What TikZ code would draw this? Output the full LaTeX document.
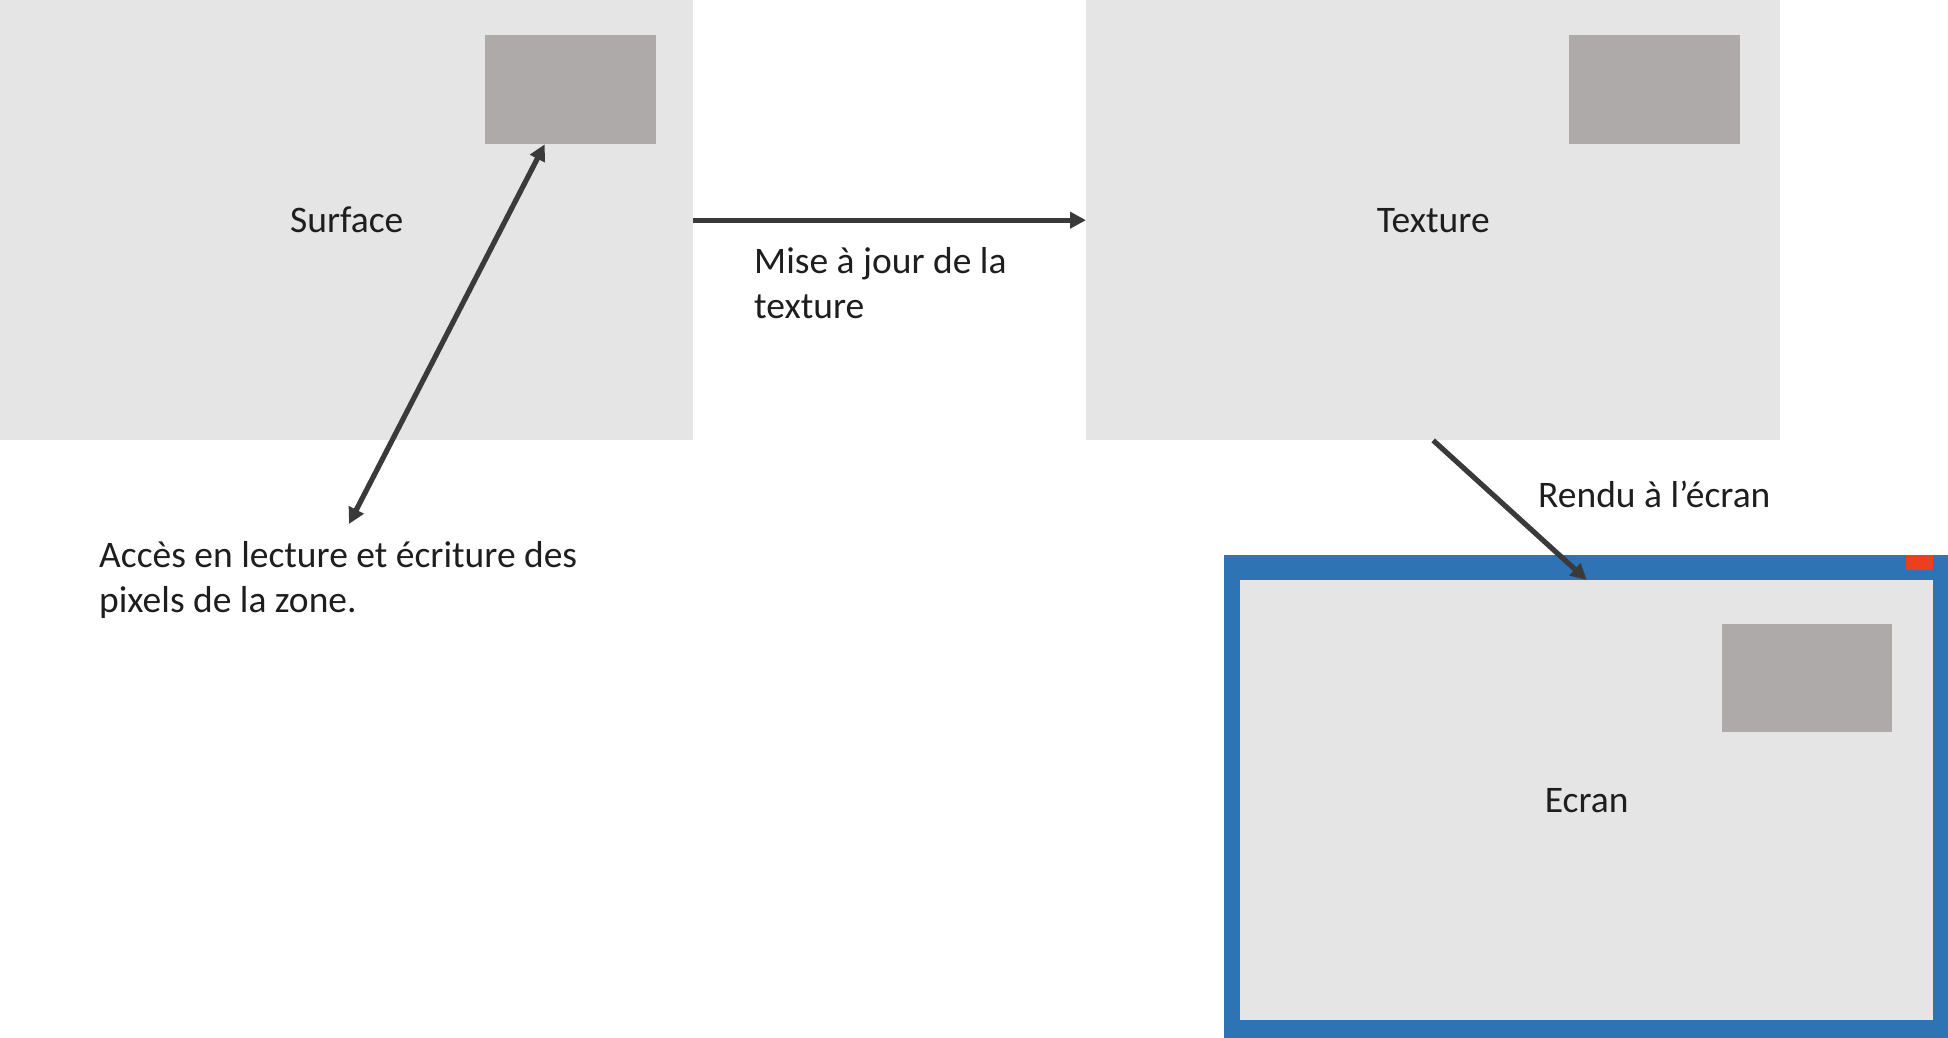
\documentclass[tikz,border=0pt]{standalone}
\usepackage{fontspec}
\setmainfont{Carlito}
\usetikzlibrary{arrows.meta,calc}
\definecolor{boxgrey}{HTML}{E5E5E5}
\definecolor{smallgrey}{HTML}{AEAAA9}
\definecolor{scrblue}{HTML}{2E74B5}
\definecolor{scrred}{HTML}{EB3F1E}
\definecolor{arrowcol}{HTML}{3A3A3A}
\definecolor{txtcol}{HTML}{1E1E1E}
\tikzset{
  bigbox/.style={fill=boxgrey, draw=none, inner sep=0pt, anchor=north west, text=txtcol, font=\fontsize{37.5}{45}\selectfont},
  smallbox/.style={fill=smallgrey, draw=none, inner sep=0pt, anchor=north west},
  conn/.style={draw=arrowcol, line width=5.2pt, -{Triangle[length=16pt,width=16pt]}},
  lbl/.style={font=\fontsize{37.5}{45}\selectfont, align=left, inner sep=0pt, anchor=west, text=txtcol}
}
\begin{document}
\begin{tikzpicture}[x=1pt,y=-1pt]
\useasboundingbox (0,0) rectangle (1948,1038);
% Surface
\node[bigbox, minimum width=693pt, minimum height=440pt] (surf) at (0,0) {Surface};
\node[smallbox, minimum width=171.5pt, minimum height=109pt] (srect) at (484.5,35) {};
% Texture
\node[bigbox, minimum width=694pt, minimum height=440pt] (tex) at (1086,0) {Texture};
\node[smallbox, minimum width=171pt, minimum height=109pt] (trect) at (1569,35) {};
% Screen
\node[fill=scrblue, draw=none, inner sep=0pt, anchor=north west, minimum width=724pt, minimum height=483pt] (scrout) at (1224,555) {};
\node[bigbox, minimum width=693pt, minimum height=440pt] (scrin) at (1240,580) {Ecran};
\node[fill=scrred, draw=none, inner sep=0pt, anchor=north west, minimum width=27pt, minimum height=15pt] (red) at (1906,555) {};
\node[smallbox, minimum width=170pt, minimum height=108pt] (erect) at (1722,624) {};
% Labels
\node[lbl] (mise) at (754,283) {Mise à jour de la\\texture};
\node[lbl] (acces) at (99,580) {Accès en lecture et écriture des\\pixels de la zone.};
\node[lbl] (rendu) at (1538,494) {Rendu à l’écran};
% Connectors
\coordinate (dstart) at ($(srect.south west)!0.35!(srect.south east)$);
\coordinate (dend) at (349,524);
\draw[conn] (surf.east) -- (tex.west);
\draw[conn, {Triangle[length=16pt,width=16pt]}-{Triangle[length=16pt,width=16pt]}] (dstart) -- (dend);
\draw[conn] (tex.south) -- (scrin.north);
\end{tikzpicture}
\end{document}
